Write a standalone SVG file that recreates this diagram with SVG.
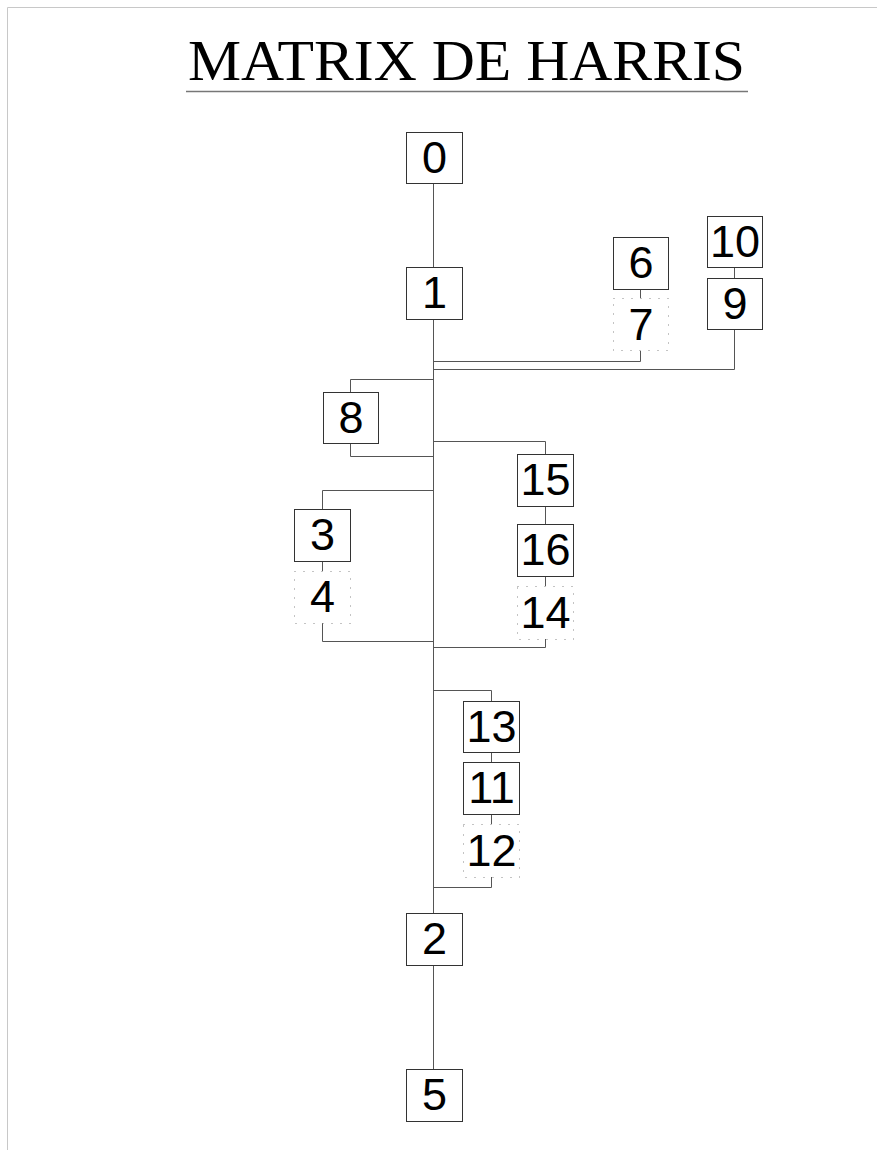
<svg xmlns="http://www.w3.org/2000/svg" width="877" height="1150" viewBox="0 0 877 1150">
<style>
.box{fill:#fff;stroke:#333;stroke-width:1}
.dot{fill:none;stroke:#888;stroke-width:1;stroke-dasharray:1 8}
.lbl{font-family:"Liberation Sans",Arial,sans-serif;font-size:45px;fill:#000;text-anchor:middle}
.wire{fill:none;stroke:#555;stroke-width:1}
</style>
<rect width="877" height="1150" fill="#fff"/>
<g id="page-border" fill="none" stroke="#c8c8c8" stroke-width="1">
<path d="M7.5 1150 V7.5 H877"/>
</g>
<g id="title">
<text x="188" y="80" font-family="'Liberation Serif','Times New Roman',serif" font-size="58" textLength="557" lengthAdjust="spacingAndGlyphs" fill="#000">MATRIX DE HARRIS</text>
<line x1="186" y1="91.5" x2="748" y2="91.5" stroke="#777" stroke-width="1.5"/>
</g>
<g id="connectors" class="wire">
<path d="M433.5 183 V267"/>
<path d="M433.5 320 V913"/>
<path d="M433.5 965 V1069"/>
<path d="M640.5 289 V298"/>
<path d="M640.5 351 V361.5 H433.5"/>
<path d="M734.5 268 V278"/>
<path d="M734.5 330 V369.5 H433.5"/>
<path d="M433.5 379.5 H350.5 V392"/>
<path d="M350.5 444 V456.5 H433.5"/>
<path d="M433.5 441.5 H545.5 V454"/>
<path d="M545.5 506 V524"/>
<path d="M545.5 576 V586"/>
<path d="M545.5 639 V647.5 H433.5"/>
<path d="M433.5 490.5 H322.5 V509"/>
<path d="M322.5 561 V571"/>
<path d="M322.5 623 V641.5 H433.5"/>
<path d="M433.5 690.5 H491.5 V701"/>
<path d="M491.5 753 V762"/>
<path d="M491.5 814 V824"/>
<path d="M491.5 877 V887.5 H433.5"/>
</g>
<g id="node-0"><rect class="box" x="406.5" y="132.5" width="56" height="51"/><text class="lbl" x="434.5" y="173">0</text></g>
<g id="node-1"><rect class="box" x="406.5" y="267.5" width="56" height="52"/><text class="lbl" x="434.5" y="308">1</text></g>
<g id="node-6"><rect class="box" x="613.5" y="237.5" width="55" height="52"/><text class="lbl" x="641" y="278">6</text></g>
<g id="node-7"><rect class="dot" x="613.5" y="298.5" width="55" height="52"/><text class="lbl" x="641" y="340">7</text></g>
<g id="node-10"><rect class="box" x="707.5" y="216.5" width="55" height="51"/><text class="lbl" x="735" y="257">10</text></g>
<g id="node-9"><rect class="box" x="707.5" y="278.5" width="55" height="51"/><text class="lbl" x="735" y="319">9</text></g>
<g id="node-8"><rect class="box" x="323.5" y="392.5" width="55" height="51"/><text class="lbl" x="351" y="433">8</text></g>
<g id="node-15"><rect class="box" x="517.5" y="454.5" width="56" height="52"/><text class="lbl" x="545.5" y="495">15</text></g>
<g id="node-16"><rect class="box" x="517.5" y="524.5" width="56" height="52"/><text class="lbl" x="545.5" y="565">16</text></g>
<g id="node-14"><rect class="dot" x="517.5" y="586.5" width="56" height="53"/><text class="lbl" x="545.5" y="628">14</text></g>
<g id="node-3"><rect class="box" x="294.5" y="509.5" width="56" height="52"/><text class="lbl" x="322.5" y="550">3</text></g>
<g id="node-4"><rect class="dot" x="294.5" y="571.5" width="56" height="52"/><text class="lbl" x="322.5" y="612">4</text></g>
<g id="node-13"><rect class="box" x="463.5" y="701.5" width="56" height="51"/><text class="lbl" x="491.5" y="742">13</text></g>
<g id="node-11"><rect class="box" x="463.5" y="762.5" width="56" height="52"/><text class="lbl" x="491.5" y="803">11</text></g>
<g id="node-12"><rect class="dot" x="463.5" y="824.5" width="56" height="53"/><text class="lbl" x="491.5" y="866">12</text></g>
<g id="node-2"><rect class="box" x="406.5" y="913.5" width="56" height="52"/><text class="lbl" x="434.5" y="954">2</text></g>
<g id="node-5"><rect class="box" x="406.5" y="1069.5" width="56" height="52"/><text class="lbl" x="434.5" y="1110">5</text></g>
</svg>
